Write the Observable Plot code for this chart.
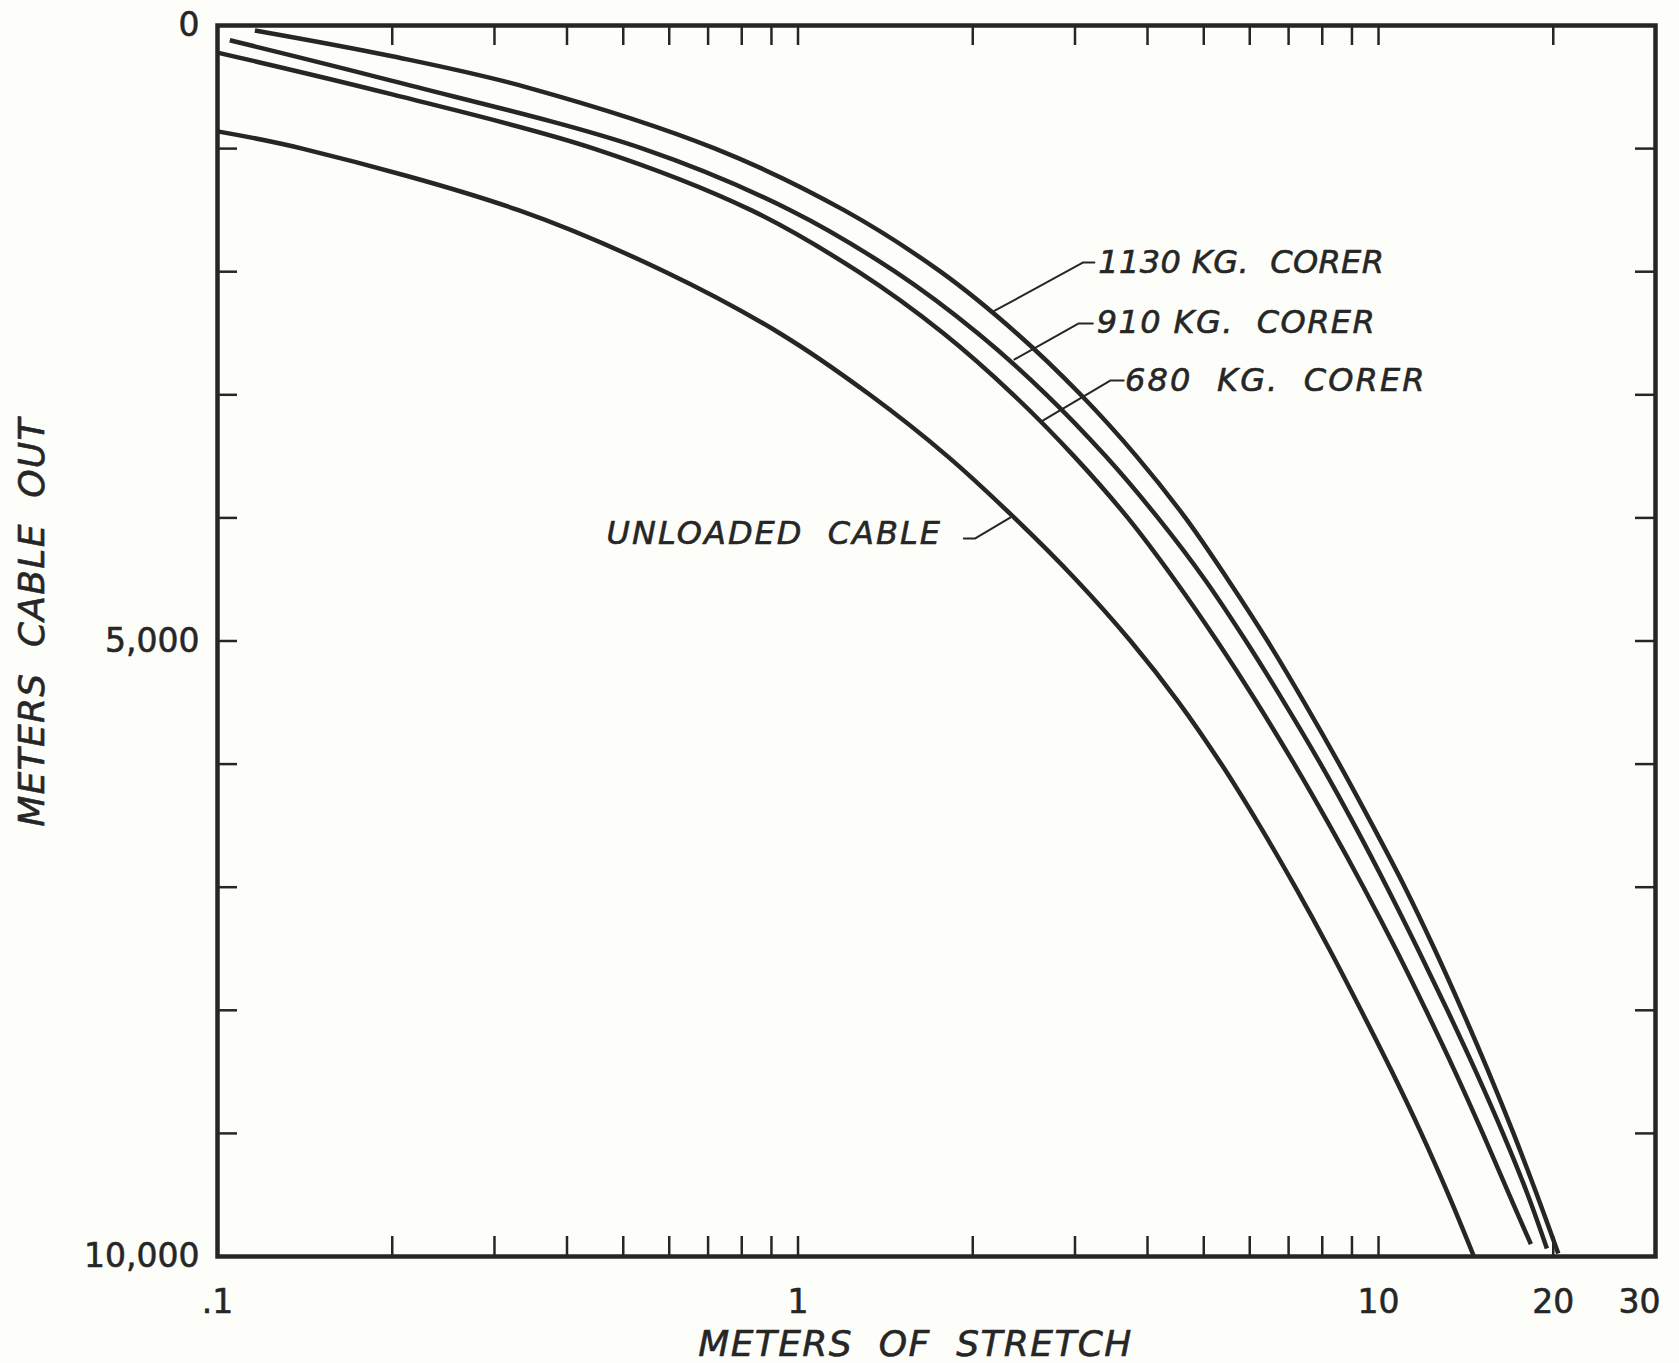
<!DOCTYPE html>
<html>
<head>
<meta charset="utf-8">
<script src="https://cdn.jsdelivr.net/npm/d3@7"></script>
<script src="https://cdn.jsdelivr.net/npm/@observablehq/plot@0.6"></script>
<style>
  html, body { margin: 0; padding: 0; background: #fdfdf9; }
  #chart svg { display: block; }
</style>
</head>
<body>
<div id="chart"></div>
<script>
// ---- data (cable out in m, stretch in m) ----
const unloadedCable   = [860, 1000, 1500, 2000, 2500, 3000, 3500, 4000, 4500, 5000, 5500, 6000, 6500, 7000, 7500, 8000, 8500, 9000, 9500, 10000];
const unloadedStretch = [0.100, 0.14, 0.33, 0.59, 0.93, 1.33, 1.81, 2.36, 3.01, 3.74, 4.53, 5.36, 6.24, 7.19, 8.22, 9.33, 10.55, 11.85, 13.2, 14.6];

const corer680Cable   = [220, 560, 1000, 1500, 2000, 2500, 3000, 3500, 4000, 4500, 5000, 5500, 6000, 6500, 7000, 7500, 8000, 8500, 9000, 9500, 9900];
const corer680Stretch = [0.100, 0.200, 0.445, 0.83, 1.27, 1.78, 2.35, 2.99, 3.70, 4.45, 5.27, 6.17, 7.16, 8.24, 9.42, 10.70, 12.07, 13.55, 15.12, 16.80, 18.3];

const corer910Cable   = [120, 450, 1000, 1500, 2000, 2500, 3000, 3500, 4000, 4500, 5000, 5500, 6000, 6500, 7000, 7500, 8000, 8500, 9000, 9500, 9935];
const corer910Stretch = [0.105, 0.200, 0.54, 0.97, 1.47, 2.04, 2.68, 3.39, 4.17, 5.02, 5.91, 6.88, 7.95, 9.10, 10.34, 11.68, 13.14, 14.72, 16.38, 18.08, 19.5];

const corer1130Cable   = [40, 250, 500, 1000, 1500, 2000, 2500, 3000, 3500, 4000, 4500, 5000, 5500, 6000, 6500, 7000, 7500, 8000, 8500, 9000, 9500, 9975];
const corer1130Stretch = [0.116, 0.200, 0.34, 0.72, 1.20, 1.76, 2.38, 3.07, 3.83, 4.65, 5.50, 6.44, 7.45, 8.56, 9.77, 11.10, 12.48, 13.93, 15.47, 17.08, 18.75, 20.4];

const seriesNames = ["UNLOADED CABLE", "680 KG. CORER", "910 KG. CORER", "1130 KG. CORER"];

// axis ticks and labels
const xTickValues  = [0.2, 0.3, 0.4, 0.5, 0.6, 0.7, 0.8, 0.9, 1, 2, 3, 4, 5, 6, 7, 8, 9, 10, 20];
const xLabelValues = [0.1, 1, 10, 20, 30];
const xLabelTexts  = [".1", "1", "10", "20", "30"];
const yTickValues  = [1000, 2000, 3000, 4000, 5000, 6000, 7000, 8000, 9000];
const yLabelValues = [0, 5000, 10000];
const yLabelTexts  = ["0", "5,000", "10,000"];
const xTitle = "METERS\u00A0\u00A0OF\u00A0\u00A0STRETCH";
const yTitle = "METERS\u00A0\u00A0CABLE\u00A0\u00A0OUT";

// curve label annotations (data units)
const labelTexts   = ["UNLOADED\u00A0\u00A0CABLE", "680\u00A0\u00A0KG.\u00A0\u00A0CORER", "910\u00A0KG.\u00A0\u00A0CORER", "1130\u00A0KG.\u00A0\u00A0CORER"];
const labelStretch = [1.77, 3.66, 3.27, 3.29];
const labelCable   = [4127, 2884, 2413, 1925];
// leader lines: label end -> curve
const leaderSeries  = [0, 0, 0, 1, 1, 1, 2, 2, 2, 3, 3, 3];
const leaderStretch = [1.93, 2.02, 2.32, 3.64, 3.45, 2.64, 3.22, 3.04, 2.36, 3.24, 3.10, 2.17];
const leaderCable   = [4167, 4167, 3997, 2884, 2884, 3209, 2421, 2421, 2713, 1925, 1925, 2323];

// ---- build tables ----
function rows(name, cable, stretch) {
  return cable.map((c, i) => ({series: name, cable: c, stretch: stretch[i]}));
}
const curves = [
  ...rows(seriesNames[0], unloadedCable, unloadedStretch),
  ...rows(seriesNames[1], corer680Cable, corer680Stretch),
  ...rows(seriesNames[2], corer910Cable, corer910Stretch),
  ...rows(seriesNames[3], corer1130Cable, corer1130Stretch)
];
const labels = labelTexts.map((t, i) => ({text: t, stretch: labelStretch[i], cable: labelCable[i]}));
const leaders = leaderSeries.map((s, i) => ({series: s, stretch: leaderStretch[i], cable: leaderCable[i]}));
const xLabels = xLabelValues.map((v, i) => ({v, t: xLabelTexts[i]}));
const yLabels = yLabelValues.map((v, i) => ({v, t: yLabelTexts[i]}));

const W = 1679, H = 1363;
const mL = 217, mR = 24, mT = 25, mB = 107;
const frameW = W - mL - mR, frameH = H - mT - mB;
const ink = "#262626";
const tickLen = 20;
const letterStyle = {fill: ink, stroke: ink, strokeWidth: 0.6};

const chart = Plot.plot({
  width: W,
  height: H,
  marginLeft: mL,
  marginRight: mR,
  marginTop: mT,
  marginBottom: mB,
  style: {fontFamily: "DejaVu Sans, sans-serif", background: "#fdfdf9", color: ink, overflow: "visible"},
  x: {type: "log", domain: [0.1, 30], axis: null},
  y: {domain: [0, 10000], reverse: true, axis: null},
  marks: [
    // ticks (inward on all four sides)
    Plot.tickX(xTickValues, {x: d => d, insetBottom: frameH - tickLen, stroke: ink, strokeWidth: 2.5}),
    Plot.tickX(xTickValues, {x: d => d, insetTop: frameH - tickLen, stroke: ink, strokeWidth: 2.5}),
    Plot.tickY(yTickValues, {y: d => d, insetRight: frameW - tickLen, stroke: ink, strokeWidth: 2.5}),
    Plot.tickY(yTickValues, {y: d => d, insetLeft: frameW - tickLen, stroke: ink, strokeWidth: 2.5}),
    // curves
    Plot.line(curves, {x: "stretch", y: "cable", z: "series", curve: "catmull-rom", stroke: ink, strokeWidth: 4.5, strokeLinecap: "butt"}),
    // leader lines
    Plot.line(leaders, {x: "stretch", y: "cable", z: "series", stroke: ink, strokeWidth: 2}),
    // curve labels
    Plot.text(labels.slice(0, 1), {x: "stretch", y: "cable", text: "text", textAnchor: "end", lineAnchor: "middle", fontSize: 32, fontStyle: "italic", ...letterStyle}),
    Plot.text(labels.slice(1), {x: "stretch", y: "cable", text: "text", textAnchor: "start", lineAnchor: "middle", fontSize: 32, fontStyle: "italic", ...letterStyle}),
    // frame
    Plot.frame({stroke: ink, strokeWidth: 4.5}),
    // tick labels
    Plot.text(xLabels.slice(0, 4), {x: "v", text: "t", frameAnchor: "bottom", dy: 46, textAnchor: "middle", lineAnchor: "middle", fontSize: 33, ...letterStyle}),
    Plot.text(xLabels.slice(4), {x: "v", text: "t", frameAnchor: "bottom", dy: 46, dx: -16, textAnchor: "middle", lineAnchor: "middle", fontSize: 33, ...letterStyle}),
    Plot.text(yLabels, {y: "v", text: "t", frameAnchor: "left", dx: -18, textAnchor: "end", lineAnchor: "middle", fontSize: 33, ...letterStyle}),
    // axis titles
    Plot.text([xTitle], {frameAnchor: "bottom", dy: 88, dx: -21, textAnchor: "middle", lineAnchor: "middle", fontSize: 36, fontStyle: "italic", ...letterStyle}),
    Plot.text([yTitle], {frameAnchor: "left", dx: -185, dy: -19, rotate: -90, textAnchor: "middle", lineAnchor: "middle", fontSize: 36, fontStyle: "italic", ...letterStyle})
  ]
});

// letter spacing for the hand-lettered labels
const spacing = new Map([
  [labelTexts[0], 2], [labelTexts[1], 2.1], [labelTexts[2], 1.4], [labelTexts[3], 0.4],
  [xTitle, 1.4], [yTitle, 1.3]
]);
d3.select(chart).selectAll("text").each(function() {
  const s = spacing.get(this.textContent);
  if (s != null) this.setAttribute("letter-spacing", s);
});

document.getElementById("chart").appendChild(chart);
</script>
</body>
</html>
